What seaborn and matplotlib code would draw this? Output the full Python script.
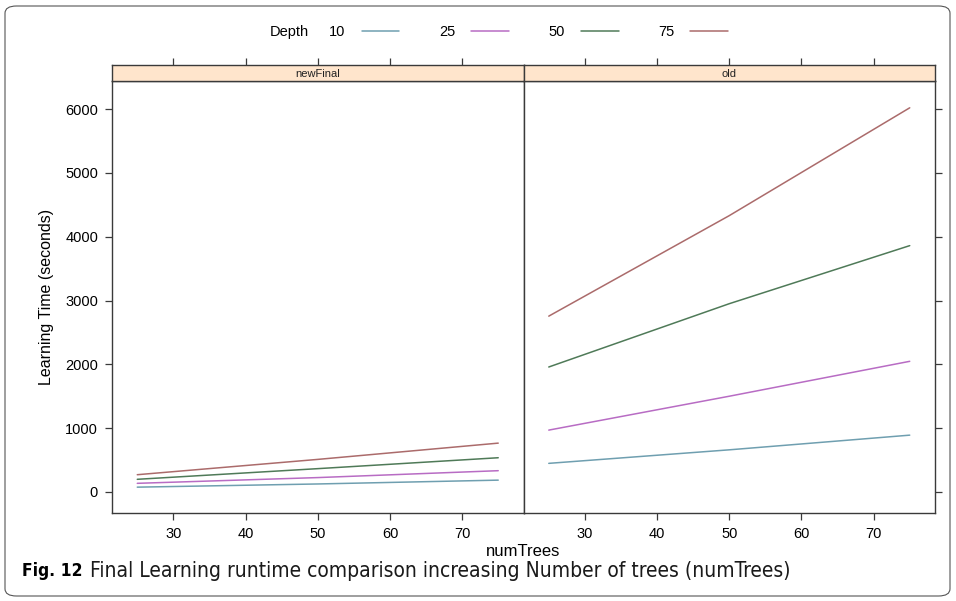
import matplotlib
matplotlib.use("Agg")
import matplotlib.pyplot as plt
import pandas as pd
import seaborn as sns
from matplotlib.patches import FancyBboxPatch

# ----------------------------
# data
# ----------------------------
num_trees = [25, 50, 75]
depths = [10, 25, 50, 75]
panels = ["newFinal", "old"]

new_d10 = [75, 125, 185]
new_d25 = [135, 225, 333]
new_d50 = [198, 365, 536]
new_d75 = [270, 510, 765]

old_d10 = [448, 660, 890]
old_d25 = [969, 1500, 2047]
old_d50 = [1958, 2950, 3860]
old_d75 = [2755, 4330, 6020]

depth_colors = ["#6f9fb0", "#b86cc4", "#4f7a58", "#ab6b6b"]
y_ticks = [0, 1000, 2000, 3000, 4000, 5000, 6000]
x_ticks = [30, 40, 50, 60, 70]

series = {
    "newFinal": [new_d10, new_d25, new_d50, new_d75],
    "old": [old_d10, old_d25, old_d50, old_d75],
}

rows = []
for panel in panels:
    for depth, vals in zip(depths, series[panel]):
        for n, v in zip(num_trees, vals):
            rows.append({"panel": panel, "Depth": str(depth), "numTrees": n, "time": v})
df = pd.DataFrame(rows)
palette = {str(d): c for d, c in zip(depths, depth_colors)}

# ----------------------------
# figure layout
# ----------------------------
sns.set_style("white")
plt.rcParams["font.family"] = ["Liberation Sans", "DejaVu Sans"]
plt.rcParams["text.color"] = "black"
plt.rcParams["axes.labelcolor"] = "black"
plt.rcParams["xtick.color"] = "black"
plt.rcParams["ytick.color"] = "black"

W, H = 956, 601
fig = plt.figure(figsize=(W / 100, H / 100), dpi=100)

left, right = 112, 935
bottom, top = 513, 81
strip_top = 65
pw = (right - left) / 2

edge = "#3a3a3a"
axes = []
for i, panel in enumerate(panels):
    x0 = left + i * pw
    ax = fig.add_axes([x0 / W, 1 - bottom / H, pw / W, (bottom - top) / H])
    sns.lineplot(
        data=df[df["panel"] == panel],
        x="numTrees",
        y="time",
        hue="Depth",
        palette=palette,
        linewidth=1.1,
        legend=False,
        ax=ax,
    )
    ax.set_xlim(21.5, 78.5)
    ax.set_ylim(-330, 6440)
    ax.set_xticks(x_ticks)
    ax.set_yticks(y_ticks)
    ax.set_xlabel("")
    ax.set_ylabel("")
    for s in ax.spines.values():
        s.set_color(edge)
        s.set_linewidth(1.0)
    ax.tick_params(axis="both", direction="out", length=5, width=0.9,
                   color=edge, labelsize=10.5, pad=5)
    ax.tick_params(axis="y", left=(i == 0), right=(i == 1),
                   labelleft=(i == 0), labelright=False)
    ax.tick_params(axis="x", bottom=True, top=False)
    axes.append(ax)

    # strip
    sax = fig.add_axes([x0 / W, 1 - top / H, pw / W, (top - strip_top) / H])
    sax.set_facecolor("#ffe5cc")
    sax.set_xlim(21.5, 78.5)
    sax.set_xticks(x_ticks)
    sax.set_yticks([])
    sax.tick_params(axis="x", bottom=False, top=True, labelbottom=False,
                    direction="out", length=5, width=0.9, color=edge)
    for s in sax.spines.values():
        s.set_color(edge)
        s.set_linewidth(1.0)
    sax.text(0.5, 0.45, panel, transform=sax.transAxes, ha="center",
             va="center", fontsize=8, color="#222222")

axes[0].set_ylabel("Learning Time (seconds)", fontsize=11.5, labelpad=8)
fig.text((left + right) / 2 / W, 1 - 552 / H, "numTrees", ha="center",
         va="center", fontsize=12)

# ----------------------------
# legend on top
# ----------------------------
fig.text(270 / W, 1 - 32 / H, "Depth", ha="left", va="center", fontsize=10.5)
handles = axes[1].get_lines()[:4]
fig.legend(
    handles,
    [str(d) for d in depths],
    loc="center left",
    bbox_to_anchor=(316 / W, 1 - 32 / H),
    ncol=4,
    frameon=False,
    markerfirst=False,
    fontsize=10.5,
    handlelength=2.6,
    columnspacing=2.7,
    handletextpad=1.1,
)

# ----------------------------
# caption and frame
# ----------------------------
cap_y = 1 - 571 / H
t1 = fig.text(22 / W, cap_y, "Fig. 12", fontsize=12.5, fontweight="bold",
              family="DejaVu Sans", stretch="condensed",
              ha="left", va="center")
fig.canvas.draw()
bb = t1.get_window_extent()
fig.text((bb.x1 + 7) / W, cap_y,
         "Final Learning runtime comparison increasing Number of trees (numTrees)",
         fontsize=15, family="DejaVu Sans", stretch="condensed",
         color="#1a1a1a", ha="left", va="center")

frame = FancyBboxPatch((5 / W, 5 / H), 945 / W, 590 / H,
                       boxstyle="round,pad=0,rounding_size=0.012",
                       transform=fig.transFigure, fill=False,
                       edgecolor="#555555", linewidth=0.8)
fig.patches.append(frame)

fig.savefig("out.png", dpi=100)
plt.close(fig)
